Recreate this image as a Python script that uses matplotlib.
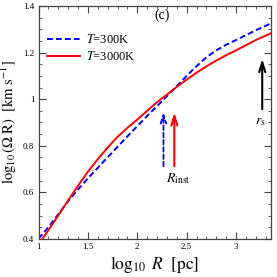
import numpy as np
import matplotlib
matplotlib.use('Agg')
import matplotlib.pyplot as plt
from matplotlib.ticker import MultipleLocator, FormatStrFormatter

# 读出的曲线数据 (log10 R, log10(Omega R))
logR_300 = [1.00, 1.10, 1.20, 1.30, 1.40, 1.50, 1.60, 1.70, 1.80, 1.90, 2.00,
            2.10, 2.20, 2.30, 2.40, 2.50, 2.60, 2.70, 2.80, 2.90, 3.00, 3.10,
            3.20, 3.35]
v_300 = [0.400, 0.450, 0.505, 0.561, 0.612, 0.660, 0.705, 0.750, 0.795, 0.840,
         0.884, 0.928, 0.970, 1.013, 1.056, 1.100, 1.142, 1.180, 1.210, 1.234,
         1.254, 1.275, 1.296, 1.325]

logR_3000 = [1.04, 1.10, 1.20, 1.30, 1.40, 1.50, 1.60, 1.70, 1.80, 1.90, 2.00,
             2.10, 2.20, 2.30, 2.40, 2.50, 2.60, 2.70, 2.80, 2.90, 3.00, 3.10,
             3.20, 3.35]
v_3000 = [0.400, 0.437, 0.500, 0.565, 0.628, 0.688, 0.742, 0.792, 0.838, 0.877,
          0.912, 0.950, 0.987, 1.020, 1.053, 1.084, 1.114, 1.141, 1.166, 1.189,
          1.210, 1.232, 1.254, 1.283]

labels = [r'$T$=300K', r'$T$=3000K']

# 箭头: R_inst (两个温度) 和 r_s
rinst_300 = 2.265
rinst_3000 = 2.375
r_s = 3.265
arrow_lo = 0.70
arrow_hi = 0.955
rs_lo = 0.945
rs_hi = 1.185

plt.rcParams['font.family'] = ['Liberation Serif', 'DejaVu Serif']
plt.rcParams['mathtext.fontset'] = 'stix'

fig = plt.figure(figsize=(2.77, 2.77), dpi=100)
ax = fig.add_axes([0.139, 0.138, 0.838, 0.840])

ax.plot(logR_300, v_300, color='blue', lw=1.4, ls=(0, (3, 1.6)), label=labels[0])
ax.plot(logR_3000, v_3000, color='red', lw=1.4, ls='-', label=labels[1])

# 箭头
ax.annotate('', xy=(rinst_300, arrow_hi), xytext=(rinst_300, arrow_lo),
            arrowprops=dict(arrowstyle='->,head_length=0.6,head_width=0.2',
                            color='blue', lw=1.3, ls=(0, (2.5, 1.5))))
ax.annotate('', xy=(rinst_3000, arrow_hi), xytext=(rinst_3000, arrow_lo),
            arrowprops=dict(arrowstyle='->,head_length=0.7,head_width=0.22',
                            color='red', lw=1.5))
ax.annotate('', xy=(r_s, rs_hi), xytext=(r_s, rs_lo),
            arrowprops=dict(arrowstyle='->,head_length=0.7,head_width=0.22',
                            color='black', lw=1.5))

ax.text(2.415, 0.66, r'$R_{\rm inst}$', fontsize=10, ha='center', va='center')
ax.text(3.25, 0.905, r'$r_{\rm s}$', fontsize=10, ha='center', va='center')
ax.text(2.25, 1.36, '(c)', fontsize=10, ha='center', va='center')

ax.set_xlim(1, 3.35)
ax.set_ylim(0.4, 1.4)
ax.xaxis.set_major_locator(MultipleLocator(0.5))
ax.xaxis.set_minor_locator(MultipleLocator(0.1))
ax.yaxis.set_major_locator(MultipleLocator(0.2))
ax.yaxis.set_minor_locator(MultipleLocator(0.05))
ax.xaxis.set_major_formatter(FormatStrFormatter('%g'))
ax.yaxis.set_major_formatter(FormatStrFormatter('%g'))
ax.tick_params(which='both', direction='in', top=True, right=True,
               labelsize=6.5, color='#444444', pad=3)
ax.tick_params(which='major', length=5, width=0.8)
ax.tick_params(which='minor', length=2.5, width=0.6)
for s in ax.spines.values():
    s.set_linewidth(0.9)
    s.set_color('#444444')

ax.set_xlabel(r'$\log_{10}\ R\ \ [\mathrm{pc}]$', fontsize=12.5, labelpad=2)
ax.set_ylabel(r'$\log_{10}(\Omega\ \mathrm{R})\ \ [\mathrm{km\ s^{-1}}]$',
              fontsize=10.5)
ax.yaxis.set_label_coords(-0.085, 0.5)

leg = ax.legend(loc='upper left', bbox_to_anchor=(0.0, 0.92), frameon=False,
                fontsize=9, handlelength=2.6, handletextpad=0.5,
                labelspacing=0.3, borderaxespad=0.3)

plt.savefig('out.png', dpi=100)
